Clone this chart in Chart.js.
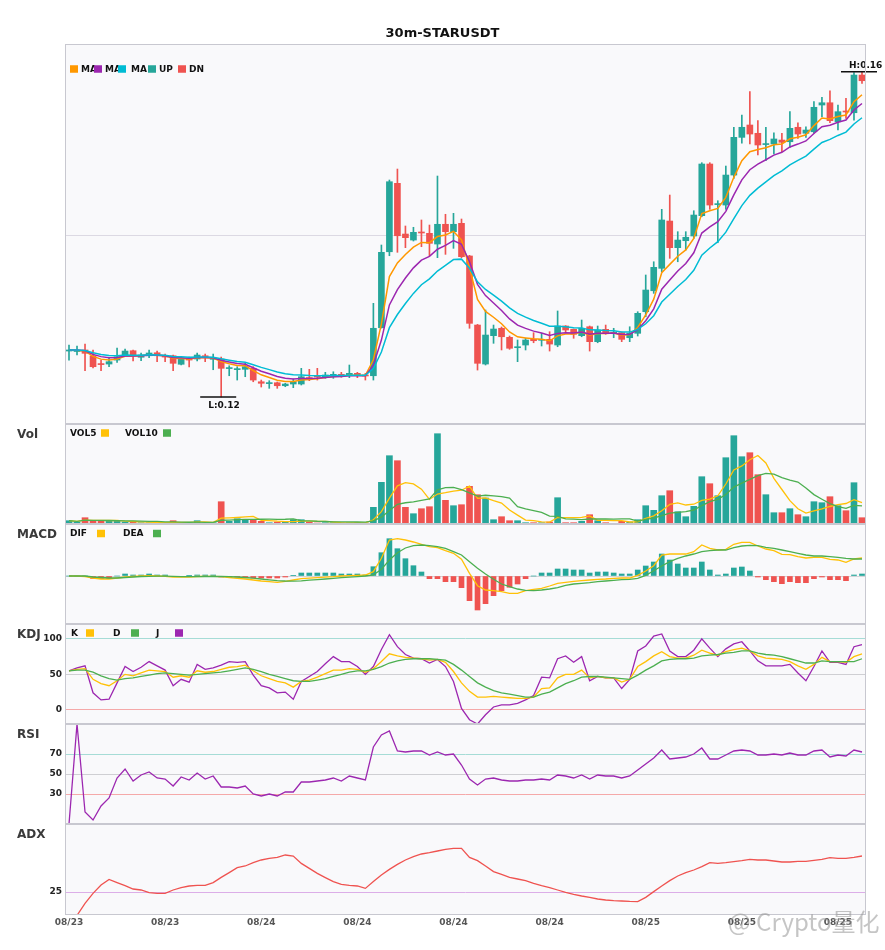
<!DOCTYPE html>
<html><head><meta charset="utf-8">
<script src="https://cdn.jsdelivr.net/npm/chart.js@4.4.0/dist/chart.umd.min.js"></script>
<style>
html,body{margin:0;padding:0;background:#fff;}
#wrap{position:relative;width:885px;height:950px;overflow:hidden;background:#fff;}
#wrap canvas{position:absolute;left:0;}
#wm{position:absolute;left:728px;top:903px;font:24px "Noto Sans CJK SC","Noto Sans",sans-serif;color:rgba(150,150,150,0.55);white-space:nowrap;pointer-events:none;}
</style></head><body>
<div id="wrap">
<canvas id="cMain" width="885" height="424" style="top:0px"></canvas>
<canvas id="cVol" width="885" height="100" style="top:424px"></canvas>
<canvas id="cMacd" width="885" height="100" style="top:524px"></canvas>
<canvas id="cKdj" width="885" height="100" style="top:624px"></canvas>
<canvas id="cRsi" width="885" height="100" style="top:724px"></canvas>
<canvas id="cAdx" width="885" height="126" style="top:824px"></canvas>
<div id="wm">@ Crypto量化</div>
</div>
<script>
// ---------------- data (30m candles, STARUSDT) ----------------
const open = [
0.12572,0.12566,0.12585,0.12514,0.12412,0.12412,0.12461,0.12514,0.12576,0.12495,
0.12514,0.12551,0.12514,0.12514,0.12409,0.12482,0.12474,0.12514,0.12470,0.12474,
0.12356,0.12343,0.12347,0.12359,0.12194,0.12171,0.12182,0.12145,0.12166,0.12166,
0.12240,0.12260,0.12244,0.12256,0.12285,0.12268,0.12298,0.12272,0.12268,0.12859,
0.13794,0.14636,0.14012,0.13938,0.14032,0.14021,0.13889,0.14132,0.14041,0.14144,
0.13742,0.12892,0.12412,0.12761,0.12852,0.12741,0.12613,0.12646,0.12716,0.12704,
0.12716,0.12646,0.12880,0.12839,0.12761,0.12871,0.12687,0.12839,0.12790,0.12798,
0.12736,0.12790,0.13056,0.13314,0.13590,0.14172,0.13844,0.13930,0.13988,0.14238,
0.14874,0.14374,0.14369,0.14738,0.15202,0.15354,0.15252,0.15113,0.15120,0.15169,
0.15148,0.15326,0.15252,0.15271,0.15600,0.15628,0.15394,0.15521,0.15505,0.15969];
const high = [
0.12646,0.12634,0.12658,0.12585,0.12461,0.12486,0.12609,0.12597,0.12585,0.12548,
0.12585,0.12572,0.12535,0.12523,0.12486,0.12498,0.12548,0.12535,0.12535,0.12498,
0.12391,0.12379,0.12421,0.12379,0.12215,0.12207,0.12191,0.12175,0.12228,0.12359,
0.12347,0.12359,0.12310,0.12317,0.12310,0.12400,0.12310,0.12298,0.13159,0.13877,
0.14677,0.14812,0.14111,0.14095,0.14185,0.14123,0.14726,0.14255,0.14267,0.14197,
0.13750,0.12900,0.13077,0.12892,0.12868,0.12757,0.12708,0.12729,0.12798,0.12790,
0.12810,0.13065,0.12885,0.12843,0.12954,0.12880,0.12880,0.12892,0.12852,0.12806,
0.12871,0.13056,0.13508,0.13671,0.14316,0.14492,0.14041,0.14041,0.14299,0.14890,
0.14890,0.14422,0.14849,0.15326,0.15477,0.15764,0.15407,0.15326,0.15259,0.15252,
0.15518,0.15382,0.15333,0.15641,0.15695,0.15776,0.15600,0.15682,0.15998,0.16010];
const low = [
0.12461,0.12523,0.12330,0.12363,0.12330,0.12379,0.12433,0.12511,0.12449,0.12453,
0.12490,0.12441,0.12441,0.12330,0.12400,0.12375,0.12449,0.12441,0.12342,0.12006,
0.12268,0.12215,0.12256,0.12194,0.12129,0.12113,0.12113,0.12133,0.12121,0.12154,
0.12207,0.12215,0.12236,0.12236,0.12249,0.12244,0.12244,0.12215,0.12215,0.12855,
0.13745,0.13787,0.13844,0.13926,0.13856,0.13745,0.13721,0.13762,0.13836,0.13721,
0.12852,0.12338,0.12400,0.12667,0.12585,0.12593,0.12441,0.12585,0.12674,0.12634,
0.12572,0.12625,0.12810,0.12729,0.12748,0.12572,0.12674,0.12778,0.12736,0.12687,
0.12687,0.12757,0.12994,0.13282,0.13548,0.13713,0.13671,0.13815,0.13959,0.14225,
0.14316,0.13905,0.14316,0.14698,0.15129,0.15120,0.14985,0.14914,0.14997,0.15025,
0.15079,0.15190,0.15202,0.15252,0.15456,0.15382,0.15292,0.15436,0.15415,0.15867];
const close = [
0.12585,0.12578,0.12544,0.12379,0.12405,0.12441,0.12502,0.12572,0.12514,0.12523,
0.12548,0.12514,0.12498,0.12421,0.12474,0.12461,0.12523,0.12490,0.12478,0.12359,
0.12363,0.12351,0.12379,0.12215,0.12175,0.12178,0.12145,0.12166,0.12194,0.12256,
0.12233,0.12252,0.12277,0.12285,0.12268,0.12298,0.12277,0.12265,0.12852,0.13787,
0.14656,0.13991,0.13967,0.14033,0.14025,0.13898,0.14132,0.14041,0.14132,0.13733,
0.12913,0.12421,0.12769,0.12843,0.12748,0.12606,0.12625,0.12708,0.12699,0.12711,
0.12658,0.12880,0.12831,0.12778,0.12852,0.12687,0.12831,0.12790,0.12802,0.12716,
0.12790,0.13036,0.13323,0.13602,0.14185,0.13844,0.13938,0.13972,0.14246,0.14874,
0.14369,0.14382,0.14738,0.15202,0.15326,0.15243,0.15108,0.15120,0.15182,0.15141,
0.15313,0.15243,0.15292,0.15572,0.15628,0.15407,0.15518,0.15514,0.15969,0.15899];
const volume = [
33,20,63,33,33,27,27,20,17,13, 13,13,10,33,17,10,33,10,13,223,
27,53,37,43,27,13,20,20,43,43, 20,10,13,13,10,13,13,10,167,417,
683,633,167,103,153,173,903,237,183,193, 377,293,260,43,73,33,33,13,13,13,
20,263,13,13,27,93,33,13,7,27, 20,43,183,137,283,333,123,73,177,473,
403,283,663,883,673,713,493,293,113,113, 153,93,73,223,213,273,183,133,413,63];
const macdHist = [
0,0,0,-2.5,-2.5,-2.5,0,2,1,1, 2,1,1,-0.5,-0.3,0.3,1,1,1,-1,
-1,-1,-1,-2,-2,-2,-2,-1,0.3,3, 3,3,3,3,2,2,2,1,9.3,23.3,
37.3,27.3,17.3,10.3,4,-2.7,-2.7,-5.7,-5.7,-11.7, -24.7,-34,-27.7,-19.7,-14.7,-11.3,-8,-2.7,0,3,
3,7,7,6,6,3,4,4,3,2, 2,6,10,14,22,16,12,8,8,14,
6,1,2,8,9,5,-1,-3.7,-5.7,-7.7, -5.7,-6.7,-6.7,-2.7,-1,-3.7,-3.7,-4.7,1,2];
const dif = [
0,0,-0.5,-2,-3,-3,-2,-1,-0.5,0, 0.3,0,-0.3,-1,-1,-1,-0.5,-0.3,-0.3,-0.7,
-1.5,-2.3,-3,-4,-5,-5.7,-6.3,-5.3,-4,-2.7, -2.2,-1.7,-1.2,-0.7,0,0.3,0.7,1,4.3,17.7,
36,37.3,36,34,31.7,29.3,28.3,25.3,22.7,16.7, 2.7,-9.7,-14,-14.7,-15.7,-17.3,-17.3,-14.7,-13.3,-12.3,
-10,-7.3,-6.3,-5.3,-4.7,-4,-3.3,-3,-2.3,-2, -2,0.7,5,10.3,21,22,22,22,24.3,31,
27.7,26,26.7,31.7,33.7,33.7,30,27,25.3,21.7, 21.3,19.3,18,18.7,18.7,16.7,16,13.7,17,18];
const dea = [
0,0,0,-1,-1.5,-2,-2,-1.5,-1,-0.5, -0.3,-0.2,-0.2,-0.4,-0.6,-0.7,-0.6,-0.5,-0.4,-0.5,
-0.7,-1,-1.5,-2.2,-3,-3.8,-4.6,-5,-5.2,-4.8, -4.2,-3.6,-3,-2.3,-1.7,-1.2,-0.6,0,1,6.7,
16,23.3,28,30.3,31,30.3,29.3,27.7,24.3,21, 14.3,7.7,2,-3.3,-8,-10.7,-13,-14.3,-14.7,-14,
-13,-11.7,-9.3,-8,-7.3,-6.7,-5.7,-5,-4.3,-3.7, -3.3,-2.3,0.7,5.3,10,14.3,17.7,20,22,24.3,
25.3,26,26,28.3,30,30.7,30.3,28.7,27.7,26, 24.3,22.7,21,20,20,19.3,18.7,17.7,17,17];
const kLine = [
55,57,58,43,37,34,41,50,48,52, 56,55,54,46,48,46,55,53,54,57,
60,61,63,55,48,44,40,38,32,40, 42,46,51,56,56,58,57,53,58,68,
79,76,74,73,72,70,71,67,54,38, 26,18,18,19,18,17,16,16,18,30,
31,45,50,50,56,45,47,45,45,39, 43,61,68,76,82,75,73,73,77,84,
80,77,82,85,87,83,76,73,72,71, 68,62,57,64,74,68,68,67,75,79];
const dLine = [
55,56,56,53,48,44,42,44,45,47, 49,51,52,51,50,49,50,51,52,53,
55,57,59,57,54,50,47,44,41,40, 40,42,44,47,50,53,55,55,57,61,
66,69,71,72,72,72,71,70,64,56, 47,38,32,27,24,22,20,18,18,22,
25,31,37,41,46,47,47,46,45,44, 43,49,56,62,69,71,72,72,73,76,
77,78,80,81,83,83,80,78,77,75, 72,69,66,66,69,68,68,68,68,72];
const jLine = [
55,59,62,24,14,15,38,61,54,60, 68,62,56,34,43,39,64,57,59,63,
68,67,68,49,34,31,24,25,15,40, 47,54,65,75,68,68,61,50,61,85,
106,89,78,73,72,66,71,61,40,2, -14,-20,-7,4,7,7,9,14,20,46,
45,72,76,67,75,41,47,45,45,30, 43,83,90,104,107,83,75,75,84,100,
87,75,86,93,96,83,69,62,62,62, 64,52,41,61,83,67,67,64,89,92];
const rsi = [
0,100,12,4,18,26,46,55,43,49, 52,46,45,38,47,44,51,45,48,37,
37,36,38,30,28,30,28,32,32,42, 42,43,44,46,43,48,46,44,77,89,
93,73,72,73,73,69,72,69,70,59, 45,39,45,46,44,43,43,44,44,45,
44,49,48,46,49,45,49,48,48,46, 48,54,60,66,74,65,66,67,70,76,
65,65,69,73,74,73,69,69,70,69, 71,69,69,73,74,67,69,68,74,72];
const adx = [
13.3,13.3,19.3,24.3,28.5,31.3,29.7,28.2,26.5,26, 24.7,24.3,24.3,26,27.2,28,28.3,28.3,29.7,32.3,
34.7,37.2,38,39.7,41,41.8,42.3,43.5,43,39.3, 36.8,34.3,32.2,30.2,28.8,28.3,28,26.8,30.2,33.5,
36.3,38.8,41,42.7,44,44.7,45.5,46.3,46.8,46.8, 42.3,40.7,38,35.2,33.8,32.3,31.5,30.7,29.3,28.2,
27.2,26,24.8,23.8,23,22.3,21.5,21,20.7,20.5, 20.3,20.2,22.3,25.2,28,30.7,33,34.7,36,37.7,
39.7,39.3,39.7,40.2,40.7,41.3,41,41,40.5,40, 40,40.3,40.3,40.8,41.3,42.2,41.8,41.8,42.3,43];
const kdjTicks = [100, 50, 0];
const rsiTicks = [70, 50, 30];
const adxTicks = [25];
const priceTicks = [0.14];
const macdTicks = [0];
const startTime = new Date(2023, 7, 23, 12, 0);
const pad2 = n => String(n).padStart(2, '0');
const categories = open.map((_, i) => {
  const t = new Date(startTime.getTime() + i * 30 * 60000);
  return pad2(t.getMonth() + 1) + '/' + pad2(t.getDate()) + ' ' + pad2(t.getHours()) + ':' + pad2(t.getMinutes());
});

// ---------------- indicators derived from the candles ----------------
function ema(src, n) { const k = 2 / (n + 1); const out = []; src.forEach((v, i) => out.push(i ? out[i - 1] + k * (v - out[i - 1]) : v)); return out; }
function sma(src, n) { return src.map((v, i) => { const s = src.slice(Math.max(0, i - n + 1), i + 1); return s.reduce((a, b) => a + b, 0) / s.length; }); }

// ---------------- styles ----------------
const FONT = "'DejaVu Sans', 'Liberation Sans', sans-serif";
const UP = '#26a69a', DN = '#ef5350';
const dirColors = close.map((c, i) => c >= open[i] ? UP : DN);

const deco = {
  id: 'deco',
  beforeDraw(chart, args, o) {
    const { ctx, chartArea: a } = chart;
    ctx.save();
    ctx.fillStyle = '#f9f9fb';
    ctx.fillRect(a.left, a.top, a.right - a.left, a.bottom - a.top);
    ctx.restore();
  },
  afterDraw(chart, args, o) {
    const { ctx, chartArea: a } = chart;
    ctx.save();
    ctx.strokeStyle = '#c8c8d0'; ctx.lineWidth = 1;
    ctx.strokeRect(a.left + 0.5, a.top + 0.5, a.right - a.left - 1, a.bottom - a.top - 1);
    ctx.textBaseline = 'middle'; ctx.textAlign = 'left';
    if (o.title) {
      ctx.font = 'bold 13px ' + FONT; ctx.fillStyle = '#111'; ctx.textAlign = 'center';
      ctx.fillText(o.title, chart.width / 2, 34);
      ctx.textAlign = 'left';
    }
    if (o.label) {
      ctx.font = 'bold 12px ' + FONT; ctx.fillStyle = '#3a3a3a';
      ctx.fillText(o.label, 17, a.top + 11);
    }
    (o.legend || []).forEach(it => {
      const y = a.top + o.legendY;
      ctx.fillStyle = it.c; ctx.fillRect(it.box, y - 3.75, 8, 7.5);
      ctx.font = 'bold 9px ' + FONT; ctx.fillStyle = '#111';
      ctx.fillText(it.t, it.text, y + 0.5);
    });
    ctx.restore();
  }
};

const hlMarks = {
  id: 'hlMarks',
  afterDatasetsDraw(chart) {
    const xs = chart.scales.x, ys = chart.scales.y, ctx = chart.ctx;
    let hi = 0, lo = 0;
    high.forEach((v, i) => { if (v > high[hi]) hi = i; });
    low.forEach((v, i) => { if (v < low[lo]) lo = i; });
    ctx.save();
    ctx.strokeStyle = '#111'; ctx.fillStyle = '#111'; ctx.lineWidth = 1.5;
    ctx.font = 'bold 9px ' + FONT; ctx.textAlign = 'left';
    let x = xs.getPixelForValue(hi), y = ys.getPixelForValue(high[hi]);
    ctx.beginPath(); ctx.moveTo(x - 21, y); ctx.lineTo(x + 15, y); ctx.stroke();
    ctx.textBaseline = 'bottom'; ctx.fillText('H:' + high[hi].toFixed(2), x - 13, y - 2);
    x = xs.getPixelForValue(lo); y = ys.getPixelForValue(low[lo]);
    ctx.beginPath(); ctx.moveTo(x - 21, y); ctx.lineTo(x + 15, y); ctx.stroke();
    ctx.textBaseline = 'top'; ctx.fillText('L:' + low[lo].toFixed(2), x - 13, y + 4);
    ctx.restore();
  }
};

function yAxis(min, max, ticks, colors, showLabels) {
  const cfg = {
    type: 'linear', position: 'left', min, max,
    afterFit(s) { s.width = 65; s.paddingTop = 0; s.paddingBottom = 0; },
    border: { display: false },
    grid: { display: !!ticks, drawTicks: false, lineWidth: 1,
      color: c => (ticks && colors[ticks.indexOf(c.tick && c.tick.value)]) || 'rgba(0,0,0,0)' },
    ticks: { display: !!showLabels, padding: 3, color: '#222',
      font: { family: FONT, size: 9, weight: 'bold' }, callback: v => String(v) }
  };
  if (ticks) cfg.afterBuildTicks = s => { s.ticks = ticks.map(v => ({ value: v })); };
  return cfg;
}
const hiddenX = { type: 'category', offset: true, display: false, grid: { display: false } };
function opts(y, decoOpts, x, padTop) {
  return {
    responsive: false, maintainAspectRatio: false, animation: false,
    layout: { padding: { left: 0, right: 19, top: padTop || 0, bottom: 0 } },
    plugins: { legend: { display: false }, tooltip: { enabled: false }, title: { display: false }, deco: decoOpts },
    scales: { x: x || hiddenX, y }
  };
}
function line(data, color, w) {
  return { type: 'line', data, borderColor: color, backgroundColor: color, borderWidth: w || 1.3,
    pointRadius: 0, tension: 0, fill: false, order: 1 };
}

// ---------------- main price panel ----------------
new Chart(document.getElementById('cMain'), {
  type: 'bar',
  data: {
    labels: categories,
    datasets: [
      { label: 'wick', data: low.map((l, i) => [l, high[i]]), backgroundColor: dirColors,
        barThickness: 1, grouped: false, order: 3 },
      { label: 'body', data: open.map((o, i) => [o, close[i]]), backgroundColor: dirColors,
        barThickness: 6, minBarLength: 1, grouped: false, order: 2 },
      Object.assign(line(ema(close, 13), '#00bcd4', 1.5), { label: 'MA13' }),
      Object.assign(line(ema(close, 8), '#9c27b0', 1.5), { label: 'MA8' }),
      Object.assign(line(ema(close, 5), '#ff9800', 1.5), { label: 'MA5' })
    ]
  },
  options: opts(yAxis(0.11674, 0.16351, priceTicks, ['#dcd9e3'], false), {
    title: '30m-STARUSDT', legendY: 25,
    legend: [
      { box: 70, text: 81, t: 'MA', c: '#ff9800' },
      { box: 94, text: 105, t: 'MA', c: '#9c27b0' },
      { box: 118, text: 131, t: 'MA', c: '#00bcd4' },
      { box: 148, text: 159, t: 'UP', c: UP },
      { box: 178, text: 189, t: 'DN', c: DN }
    ]
  }, null, 44),
  plugins: [deco, hlMarks]
});

// ---------------- volume ----------------
new Chart(document.getElementById('cVol'), {
  type: 'bar',
  data: {
    labels: categories,
    datasets: [
      { label: 'Vol', data: volume, backgroundColor: dirColors, barThickness: 6, order: 2 },
      Object.assign(line(sma(volume, 10), '#4caf50', 1.3), { label: 'VOL10' }),
      Object.assign(line(sma(volume, 5), '#ffc107', 1.3), { label: 'VOL5' })
    ]
  },
  options: opts(yAxis(0, 1000, null, [], false), {
    label: 'Vol', legendY: 9,
    legend: [{ text: 70, box: 101, t: 'VOL5', c: '#ffc107' }, { text: 125, box: 163, t: 'VOL10', c: '#4caf50' }]
  }),
  plugins: [deco]
});

// ---------------- MACD ----------------
new Chart(document.getElementById('cMacd'), {
  type: 'bar',
  data: {
    labels: categories,
    datasets: [
      { label: 'MACD', data: macdHist, backgroundColor: macdHist.map(v => v >= 0 ? UP : DN), barThickness: 5, order: 2 },
      Object.assign(line(dea, '#4caf50', 1.3), { label: 'DEA' }),
      Object.assign(line(dif, '#ffc107', 1.3), { label: 'DIF' })
    ]
  },
  options: opts(yAxis(-48, 52, macdTicks, ['#d4d4d8'], false), {
    label: 'MACD', legendY: 9.5,
    legend: [{ text: 70, box: 97, t: 'DIF', c: '#ffc107' }, { text: 123, box: 153, t: 'DEA', c: '#4caf50' }]
  }),
  plugins: [deco]
});

// ---------------- KDJ ----------------
new Chart(document.getElementById('cKdj'), {
  type: 'line',
  data: {
    labels: categories,
    datasets: [
      Object.assign(line(dLine, '#4caf50', 1.3), { label: 'D' }),
      Object.assign(line(kLine, '#ffc107', 1.3), { label: 'K' }),
      Object.assign(line(jLine, '#9c27b0', 1.3), { label: 'J' })
    ]
  },
  options: opts(yAxis(-20, 121, kdjTicks, ['#a6dcd6', '#cfcfd3', '#f5a9a9'], true), {
    label: 'KDJ', legendY: 9,
    legend: [{ text: 71, box: 86, t: 'K', c: '#ffc107' }, { text: 113, box: 131, t: 'D', c: '#4caf50' }, { text: 156, box: 175, t: 'J', c: '#9c27b0' }]
  }),
  plugins: [deco]
});

// ---------------- RSI ----------------
new Chart(document.getElementById('cRsi'), {
  type: 'line',
  data: { labels: categories, datasets: [Object.assign(line(rsi, '#9c27b0', 1.3), { label: 'RSI' })] },
  options: opts(yAxis(0, 100, rsiTicks, ['#a6dcd6', '#cfcfd3', '#f5a9a9'], true), { label: 'RSI' }),
  plugins: [deco]
});

// ---------------- ADX (with time axis) ----------------
new Chart(document.getElementById('cAdx'), {
  type: 'line',
  data: { labels: categories, datasets: [Object.assign(line(adx, '#ef5350', 1.3), { label: 'ADX' })] },
  options: opts(yAxis(13.5, 59, adxTicks, ['#dcaee8'], true), { label: 'ADX' }, {
    type: 'category', offset: true, display: true,
    afterFit(s) { s.height = 35; s.paddingLeft = 0; s.paddingRight = 0; },
    border: { display: false }, grid: { display: false, drawTicks: false },
    ticks: { autoSkip: false, maxRotation: 0, minRotation: 0, padding: 2, color: '#555',
      font: { family: FONT, size: 9, weight: 'bold' },
      callback: (v, i) => i % 12 === 0 ? categories[i].slice(0, 5) : '' }
  }),
  plugins: [deco]
});
</script>
</body></html>
